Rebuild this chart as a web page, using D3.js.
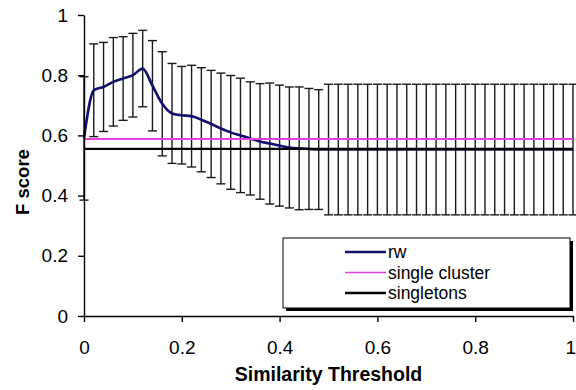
<!DOCTYPE html>
<html>
<head>
<meta charset="utf-8">
<script src="https://cdn.jsdelivr.net/npm/d3@7"></script>
<style>
  html, body { margin: 0; padding: 0; background: #fff; }
  svg { display: block; font-family: "Liberation Sans", Arial, sans-serif; }
</style>
</head>
<body>
<svg id="chart" width="576" height="390"></svg>
<script>
// Similarity thresholds at which the F score was measured
const thresholds = [
  0.00, 0.02, 0.04, 0.06, 0.08, 0.10, 0.12, 0.14, 0.16, 0.18,
  0.20, 0.22, 0.24, 0.26, 0.28, 0.30, 0.32, 0.34, 0.36, 0.38,
  0.40, 0.42, 0.44, 0.46, 0.48, 0.50, 0.52, 0.54, 0.56, 0.58,
  0.60, 0.62, 0.64, 0.66, 0.68, 0.70, 0.72, 0.74, 0.76, 0.78,
  0.80, 0.82, 0.84, 0.86, 0.88, 0.90, 0.92, 0.94, 0.96, 0.98, 1.00
];

// Mean F score of rw at each threshold
const rwMean = [
  0.590, 0.750, 0.761, 0.778, 0.789, 0.800, 0.822, 0.765, 0.705, 0.673,
  0.667, 0.664, 0.652, 0.638, 0.623, 0.610, 0.600, 0.590, 0.580, 0.573,
  0.566, 0.560, 0.557, 0.555, 0.553, 0.553, 0.553, 0.553, 0.553, 0.553,
  0.553, 0.553, 0.553, 0.553, 0.553, 0.553, 0.553, 0.553, 0.553, 0.553,
  0.553, 0.553, 0.553, 0.553, 0.553, 0.553, 0.553, 0.553, 0.553, 0.553, 0.553
];

// Standard deviation of rw (error bar half-length)
const rwStd = [
  0.205, 0.154, 0.148, 0.147, 0.139, 0.139, 0.127, 0.150, 0.173, 0.166,
  0.162, 0.169, 0.173, 0.178, 0.184, 0.189, 0.190, 0.188, 0.192, 0.201,
  0.201, 0.201, 0.204, 0.201, 0.199, 0.217, 0.217, 0.217, 0.217, 0.217,
  0.217, 0.217, 0.217, 0.217, 0.217, 0.217, 0.217, 0.217, 0.217, 0.217,
  0.217, 0.217, 0.217, 0.217, 0.217, 0.217, 0.217, 0.217, 0.217, 0.217, 0.217
];

// Baselines
const singleCluster = 0.588;
const singletons = 0.555;

const xTicks = [0, 0.2, 0.4, 0.6, 0.8, 1];
const yTicks = [0, 0.2, 0.4, 0.6, 0.8, 1];
const legendLabels = ["rw", "single cluster", "singletons"];
const seriesColors = ["#10106e", "#e23fe0", "#000000"];

const svg = d3.select("#chart");
const x = d3.scaleLinear().domain([0, 1]).range([84, 573]);
const y = d3.scaleLinear().domain([0, 1]).range([316, 15]);

const rows = thresholds.map((t, i) => ({ t, m: rwMean[i], s: rwStd[i] }));

// Error bars
const eb = svg.append("g").attr("stroke", "#1a1a1a").attr("stroke-width", 1.4);
rows.forEach(d => {
  const xp = x(d.t), y0 = y(d.m - d.s), y1 = y(d.m + d.s);
  eb.append("line").attr("x1", xp).attr("x2", xp).attr("y1", y0).attr("y2", y1);
  eb.append("line").attr("x1", xp - 4.5).attr("x2", xp + 4.5).attr("y1", y0).attr("y2", y0);
  eb.append("line").attr("x1", xp - 4.5).attr("x2", xp + 4.5).attr("y1", y1).attr("y2", y1);
});

// rw line
svg.append("path")
  .datum(rows)
  .attr("fill", "none")
  .attr("stroke", seriesColors[0])
  .attr("stroke-width", 2.6)
  .attr("stroke-linejoin", "round")
  .attr("d", d3.line().x(d => x(d.t)).y(d => y(d.m)).curve(d3.curveMonotoneX));

// single cluster and singletons baselines
svg.append("line")
  .attr("x1", x(0)).attr("x2", x(1))
  .attr("y1", y(singleCluster)).attr("y2", y(singleCluster))
  .attr("stroke", seriesColors[1]).attr("stroke-width", 2);
svg.append("line")
  .attr("x1", x(0)).attr("x2", x(1))
  .attr("y1", y(singletons)).attr("y2", y(singletons))
  .attr("stroke", seriesColors[2]).attr("stroke-width", 2.2);

// Axes
const fmt = d => d === 0 ? "0" : d === 1 ? "1" : d3.format(".1f")(d);
const xAxis = svg.append("g")
  .attr("transform", `translate(0,${y(0)})`)
  .call(d3.axisBottom(x).tickValues(xTicks).tickFormat(fmt).tickSize(6).tickPadding(19).tickSizeOuter(0));
const yAxis = svg.append("g")
  .attr("transform", `translate(${x(0)},0)`)
  .call(d3.axisLeft(y).tickValues(yTicks).tickFormat(fmt).tickSize(6).tickPadding(10).tickSizeOuter(0));
[xAxis, yAxis].forEach(g => {
  g.select(".domain").attr("stroke", "#000").attr("stroke-width", 1.4);
  g.selectAll(".tick line").attr("stroke", "#000").attr("stroke-width", 1.4);
  g.selectAll(".tick text").attr("fill", "#000").attr("font-size", 19)
    .attr("font-family", "'Liberation Sans', Arial, sans-serif");
});
// keep the last x label inside the canvas edge
xAxis.selectAll(".tick text").filter(d => d === 1).attr("text-anchor", "end").attr("x", 2.5);

// Axis titles
svg.append("text")
  .attr("x", (x(0) + x(1)) / 2).attr("y", 381)
  .attr("text-anchor", "middle").attr("font-weight", "bold").attr("font-size", 19.5)
  .text("Similarity Threshold");
svg.append("text")
  .attr("transform", `translate(29,182) rotate(-90)`)
  .attr("text-anchor", "middle").attr("font-weight", "bold").attr("font-size", 18.5)
  .text("F score");

// Legend with drop shadow
const lg = svg.append("g").attr("transform", "translate(283,238)");
lg.append("rect").attr("x", 3).attr("y", 3).attr("width", 287).attr("height", 70).attr("fill", "#000");
lg.append("rect").attr("x", 0).attr("y", 0).attr("width", 287).attr("height", 70)
  .attr("fill", "#fff").attr("stroke", "#000").attr("stroke-width", 1);
legendLabels.forEach((lab, i) => {
  const cy = 14 + i * 20.5;
  lg.append("line").attr("x1", 62).attr("x2", 103).attr("y1", cy).attr("y2", cy)
    .attr("stroke", seriesColors[i]).attr("stroke-width", i === 1 ? 1.6 : 2.4);
  lg.append("text").attr("x", 105).attr("y", cy).attr("dy", "0.35em")
    .attr("font-size", 17.5).text(lab);
});
</script>
</body>
</html>
